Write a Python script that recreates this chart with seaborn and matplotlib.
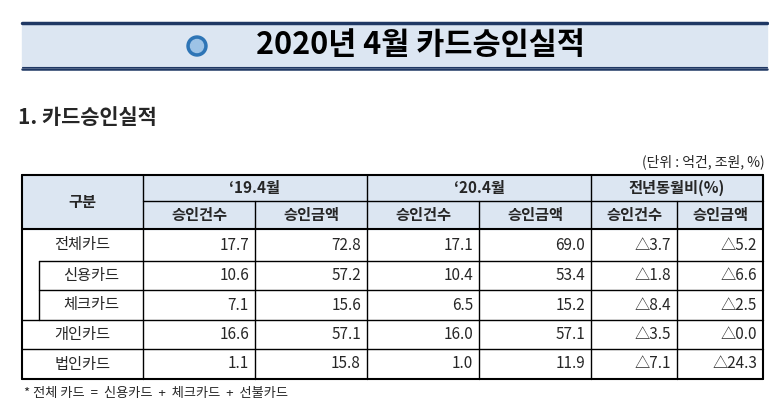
import seaborn as sns
from matplotlib import pyplot as plt
from matplotlib.patches import Rectangle, Circle

sns.set_theme(style="white", font="Noto Sans CJK KR")

# table data
row_labels = ["전체카드", "신용카드", "체크카드", "개인카드", "법인카드"]
count_19 = [17.7, 10.6, 7.1, 16.6, 1.1]
amount_19 = [72.8, 57.2, 15.6, 57.1, 15.8]
count_20 = [17.1, 10.4, 6.5, 16.0, 1.0]
amount_20 = [69.0, 53.4, 15.2, 57.1, 11.9]
yoy_count = [-3.7, -1.8, -8.4, -3.5, -7.1]
yoy_amount = [-5.2, -6.6, -2.5, -0.0, -24.3]
periods = ["‘19.4월", "‘20.4월", "전년동월비(%)"]
subheads = ["승인건수", "승인금액"]

fig = plt.figure(figsize=(7.69, 4.09), dpi=100)
ax = fig.add_axes([0, 0, 1, 1])
ax.set_xlim(0, 769)
ax.set_ylim(409, 0)
ax.axis("off")

navy = "#1f3864"
# title band
ax.add_patch(Rectangle((22, 23), 745, 44, color="#dce6f2", zorder=0))
ax.plot([22, 767], [22.5, 22.5], color=navy, lw=2.5)
ax.plot([22, 767], [66.5, 66.5], color=navy, lw=0.8)
ax.plot([22, 767], [69, 69], color=navy, lw=1.8)
ax.add_patch(Circle((197, 46), 10, color="#2e75b6", zorder=2))
ax.add_patch(Circle((197, 46), 6.5, color="#9dc3e6", zorder=3))
ax.text(420, 45, "2020년 4월 카드승인실적", fontsize=22, fontweight="bold",
        ha="center", va="center", color="black")

ax.text(18, 118, "1. 카드승인실적", fontsize=15, fontweight="bold", ha="left", va="center")
ax.text(765, 162, "(단위 : 억건, 조원, %)", fontsize=10, ha="right", va="center")

cols = [22, 143, 255, 367, 479, 591, 677, 763]
top, mid, hbot = 175, 201, 229
rows = [229, 261, 290, 320, 349, 379]

ax.add_patch(Rectangle((cols[0], top), cols[-1] - cols[0], hbot - top, color="#dce6f2", zorder=0))
lw = 1
ax.plot([cols[0], cols[-1]], [top, top], color="black", lw=1.5)
ax.plot([cols[1], cols[-1]], [mid, mid], color="black", lw=lw)
ax.plot([cols[0], cols[-1]], [hbot, hbot], color="black", lw=1.5)
for i, y in enumerate(rows[1:]):
    x0 = 39 if i < 2 else cols[0]
    ax.plot([x0, cols[-1]], [y, y], color="black", lw=1.5 if i == 4 else lw)
for j, x in enumerate(cols):
    if j in (0, len(cols) - 1):
        ax.plot([x, x], [top, rows[-1]], color="black", lw=1.5)
    elif j in (1, 3, 5):
        ax.plot([x, x], [top, rows[-1]], color="black", lw=lw)
    else:
        ax.plot([x, x], [mid, rows[-1]], color="black", lw=lw)
ax.plot([39, 39], [rows[1], rows[3]], color="black", lw=lw)

hfs = 11
ax.text((cols[0] + cols[1]) / 2, (top + hbot) / 2, "구분", fontsize=hfs, fontweight="bold", ha="center", va="center")
for k, p in enumerate(periods):
    ax.text((cols[1 + 2 * k] + cols[3 + 2 * k]) / 2, (top + mid) / 2, p,
            fontsize=hfs, fontweight="bold", ha="center", va="center")
for k in range(6):
    ax.text((cols[1 + k] + cols[2 + k]) / 2, (mid + hbot) / 2, subheads[k % 2],
            fontsize=hfs, fontweight="bold", ha="center", va="center")


def fmt_delta(v):
    return f"△{abs(v):.1f}" if v <= 0 else f"{v:.1f}"


series = [count_19, amount_19, count_20, amount_20]
for i, lab in enumerate(row_labels):
    yc = (rows[i] + rows[i + 1]) / 2
    lx = (cols[0] + cols[1]) / 2 if i not in (1, 2) else (39 + cols[1]) / 2
    ax.text(lx, yc, lab, fontsize=11, ha="center", va="center")
    vals = [f"{s[i]:.1f}" for s in series] + [fmt_delta(yoy_count[i]), fmt_delta(yoy_amount[i])]
    for k, v in enumerate(vals):
        ax.text(cols[2 + k] - 6, yc, v, fontsize=11, ha="right", va="center")

ax.text(24, 394, "* 전체 카드  =  신용카드  +  체크카드  +  선불카드", fontsize=9.5, ha="left", va="center")

fig.savefig("out.png", dpi=100)
